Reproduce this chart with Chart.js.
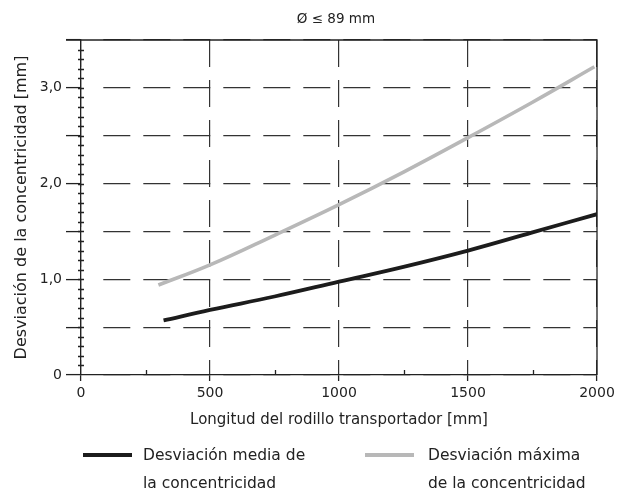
<!DOCTYPE html>
<html>
<head>
<meta charset="utf-8">
<script src="https://cdn.jsdelivr.net/npm/chart.js@4.4.1/dist/chart.umd.min.js"></script>
<style>
  html, body { margin: 0; padding: 0; background: #fff; }
  #wrap { position: relative; width: 630px; height: 491px; font-family: "DejaVu Sans", sans-serif; color: #222; }
  .swatch { position: absolute; height: 4px; width: 49px; }
  .legtext { position: absolute; font-size: 15.5px; line-height: 28px; white-space: nowrap; }
</style>
</head>
<body>
<div id="wrap">
  <canvas id="chart" width="630" height="491"></canvas>
  <div id="legend"></div>
</div>
<script>
const chartTitle = 'Ø ≤ 89 mm';
const xTitle = 'Longitud del rodillo transportador [mm]';
const yTitle = 'Desviación de la concentricidad [mm]';
const seriesNames = [
    ['Desviación media de', 'la concentricidad'],
    ['Desviación máxima', 'de la concentricidad']
];

// mean deviation
const meanLength = [320, 500, 750, 1000, 1250, 1500, 1750, 2000];
const meanDev = [0.57, 0.68, 0.82, 0.975, 1.13, 1.30, 1.49, 1.68];
// max deviation
const maxLength = [300, 500, 750, 1000, 1250, 1500, 1750, 1990];
const maxDev = [0.94, 1.15, 1.46, 1.78, 2.12, 2.48, 2.85, 3.22];

const xMinorTicks = [250, 750, 1250, 1750];
const yMinorStep = 0.1;

const colors = ['#1c1c1c', '#b8b8b8'];
const font = '"DejaVu Sans", sans-serif';
const inkColor = '#222';

// horizontal grid: long leading gap then 27/13 dashes
const hDash = [0, 22];
for (let i = 0; i < 14; i++) hDash.push(27, 13);

const toPoints = (xs, ys) => xs.map((x, i) => ({x: x, y: ys[i]}));

const frameAndTicks = {
    id: 'frameAndTicks',
    beforeDatasetsDraw(chart) {
        const {ctx, chartArea: a, scales: {x, y}} = chart;
        ctx.save();
        ctx.strokeStyle = inkColor;
        ctx.lineWidth = 1.3;
        ctx.beginPath();
        // top and right frame
        ctx.moveTo(a.left - 15, a.top);
        ctx.lineTo(a.right, a.top);
        ctx.lineTo(a.right, a.bottom);
        // minor y ticks across the axis
        for (let v = yMinorStep; v < y.max - 1e-9; v += yMinorStep) {
            const py = Math.round(y.getPixelForValue(v)) + 0.5;
            ctx.moveTo(a.left - 3, py);
            ctx.lineTo(a.left + 3, py);
        }
        // minor x ticks pointing up
        xMinorTicks.forEach(v => {
            const px = Math.round(x.getPixelForValue(v)) + 0.5;
            ctx.moveTo(px, a.bottom);
            ctx.lineTo(px, a.bottom - 5);
        });
        ctx.stroke();

        ctx.fillStyle = inkColor;
        ctx.font = '13.5px ' + font;
        ctx.textAlign = 'center';
        ctx.textBaseline = 'middle';
        ctx.fillText(chartTitle, (a.left + a.right) / 2 - 3, 19);
        ctx.restore();
    }
};

new Chart(document.getElementById('chart'), {
    type: 'line',
    data: {
        datasets: [{
            label: seriesNames[0].join(' '),
            data: toPoints(meanLength, meanDev),
            borderColor: colors[0],
            borderWidth: 3.8,
            pointRadius: 0,
            tension: 0.4
        }, {
            label: seriesNames[1].join(' '),
            data: toPoints(maxLength, maxDev),
            borderColor: colors[1],
            borderWidth: 3.6,
            pointRadius: 0,
            tension: 0.4
        }]
    },
    options: {
        responsive: false,
        animation: false,
        layout: { padding: { top: 40, right: 33, bottom: 56, left: 0 } },
        plugins: {
            legend: { display: false },
            tooltip: { enabled: false },
            title: { display: false }
        },
        scales: {
            x: {
                type: 'linear',
                min: 0,
                max: 2000,
                afterFit: s => { s.height = 60; },
                ticks: {
                    stepSize: 500,
                    padding: 4,
                    color: inkColor,
                    font: { family: font, size: 14 },
                    callback: v => String(v)
                },
                grid: { color: '#333', lineWidth: 1.2, tickLength: 6, tickColor: inkColor, tickWidth: 1.3 },
                border: { display: true, color: inkColor, width: 1.3, dash: [27, 13], dashOffset: 0 },
                title: {
                    display: true,
                    text: xTitle,
                    color: inkColor,
                    font: { family: font, size: 15 },
                    padding: { top: 0, bottom: 6 }
                }
            },
            y: {
                min: 0,
                max: 3.5,
                afterFit: s => { s.width = 81; },
                ticks: {
                    stepSize: 0.5,
                    padding: 4,
                    color: inkColor,
                    font: { family: font, size: 14 },
                    callback: v => v % 1 !== 0 ? '' : (v === 0 ? '0' : v.toFixed(1).replace('.', ','))
                },
                grid: { color: '#333', lineWidth: 1.2, tickLength: 15, tickColor: inkColor, tickWidth: 1.3 },
                border: { display: true, color: inkColor, width: 1.3, dash: hDash, dashOffset: 0 },
                title: {
                    display: true,
                    text: yTitle,
                    color: inkColor,
                    font: { family: font, size: 16 },
                    padding: { top: 12, bottom: 0 }
                }
            }
        }
    },
    plugins: [frameAndTicks]
});

// legend below the chart
const legend = document.getElementById('legend');
const legendPos = [{swatch: 83, text: 143}, {swatch: 365, text: 428}];
seriesNames.forEach((lines, i) => {
    const sw = document.createElement('div');
    sw.className = 'swatch';
    sw.style.left = legendPos[i].swatch + 'px';
    sw.style.top = '453px';
    sw.style.background = colors[i];
    legend.appendChild(sw);
    const tx = document.createElement('div');
    tx.className = 'legtext';
    tx.style.left = legendPos[i].text + 'px';
    tx.style.top = '441px';
    tx.innerHTML = lines.join('<br>');
    legend.appendChild(tx);
});
</script>
</body>
</html>
